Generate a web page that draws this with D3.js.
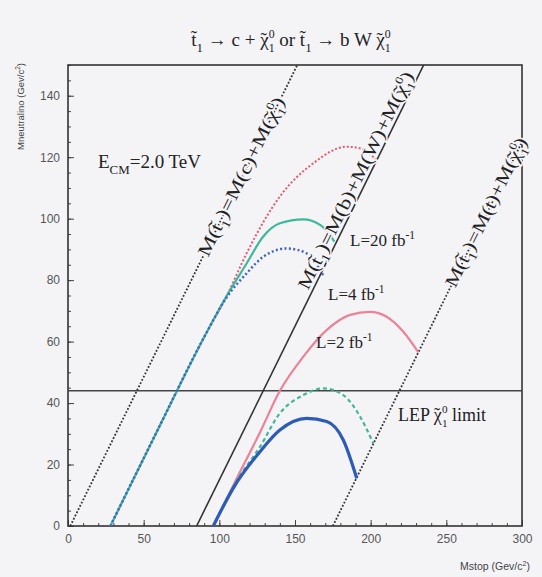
<!DOCTYPE html>
<html>
<head>
<meta charset="utf-8">
<script src="https://cdn.jsdelivr.net/npm/d3@7"></script>
<style>
  body { margin: 0; background: #f4f4f7; }
  svg { display: block; }
  .tick text { font-family: "Liberation Sans", Arial, sans-serif; font-size: 12px; fill: #555; }
  .tick line { stroke: #444; }
</style>
</head>
<body>
<div id="chart"></div>
<script>

// ---- data ----
var xTicks = [0, 50, 100, 150, 200, 250, 300];
var yTicks = [0, 20, 40, 60, 80, 100, 120, 140];
var lepLimit = 44;

// kinematic limits M(stop) = offset + M(chi)
var kinOffsets = [1.5, 85, 175];

// E_CM = 2 TeV reach contours (Mstop, Mneutralino)
var upperRed   = [[28,0],[60,32],[90,61.5],[105,75],[118,88.7],[140,107.2],[162,118],[184,123.4],[193,122.9],[204,119]];
var upperGreen = [[28,0],[60,32],[90,61.5],[105,75],[118,85.4],[129,94.2],[140,98.5],[155.5,99.8],[166.6,98],[173,94.7],[176,92.5]];
var upperBlue  = [[28,0],[60,32],[90,61.5],[105,74.5],[118,82.2],[129,87.6],[144.5,90.3],[157.7,88.7],[168.7,81.5]];

var lowerPink  = [[96,0],[110,14],[126.9,30.5],[140,44],[155.5,55.1],[171,63.8],[186.4,68.7],[199.6,69.7],[210.6,68.1],[221.6,63.2],[231.5,56.5]];
var lowerGreen = [[96,0],[110,13.5],[126.9,25.8],[140,36.7],[155.5,42.6],[168.7,44.8],[181.9,42.6],[193,35.6],[201.8,26.8]];
var lowerBlue  = [[96,0],[110,13],[126.9,24.2],[140,31.2],[157.7,35],[171,34],[181.9,28],[190.8,15.5]];

// ---- layout ----
var width = 542, height = 577;
var x = d3.scaleLinear().domain([0, 300]).range([68, 522]);
var y = d3.scaleLinear().domain([0, 150]).range([526, 65]);

var svg = d3.select("#chart").append("svg")
    .attr("width", width)
    .attr("height", height);

svg.append("rect").attr("width", width).attr("height", height).attr("fill", "#f4f4f7");

svg.append("clipPath").attr("id", "plot-clip")
    .append("rect")
    .attr("x", x(0)).attr("y", y(150))
    .attr("width", x(300) - x(0)).attr("height", y(0) - y(150));

// rich text helper: parts = [text, mode]
// modes: n normal, sub, sup, ss (sup+sub stacked), chi (chi with tilde)
function rich(sel, parts, fs) {
    var cur = 0, pdx = 0;
    parts.forEach(function(p) {
        var s = p[0], m = p[1];
        if (m == "n") {
            sel.append("tspan").attr("dx", pdx).attr("dy", -cur).text(s);
            cur = 0;
            pdx = 0;
        } else if (m == "chi") {
            sel.append("tspan").attr("dx", pdx).attr("dy", -cur).text("\u03c7");
            sel.append("tspan").attr("dx", -fs*0.43).text("\u02dc");
            cur = 0;
            pdx = fs*0.1;
        } else if (m == "sub") {
            sel.append("tspan").attr("dx", pdx).attr("dy", fs*0.3 - cur).attr("font-size", fs*0.68).text(s);
            cur = fs*0.3;
            pdx = 0;
        } else if (m == "sup") {
            sel.append("tspan").attr("dx", pdx).attr("dy", -fs*0.42 - cur).attr("font-size", fs*0.68).text(s);
            cur = -fs*0.42;
            pdx = 0;
        } else if (m == "ss") {
            sel.append("tspan").attr("dx", pdx).attr("dy", -fs*0.42 - cur).attr("font-size", fs*0.62).text(s[0]);
            sel.append("tspan").attr("dx", -fs*0.31).attr("dy", fs*0.74).attr("font-size", fs*0.62).text(s[1]);
            cur = fs*0.32;
            pdx = 0;
        }
    });
}

var serif = "'Liberation Serif', 'Times New Roman', serif";

// ---- axes ----
svg.append("g")
    .attr("transform", "translate(0," + y(0) + ")")
    .call(d3.axisBottom(x).tickValues(d3.range(0, 301, 10)).tickSize(-3).tickFormat(""))
    .select(".domain").remove();

svg.append("g")
    .attr("transform", "translate(0," + y(0) + ")")
    .call(d3.axisBottom(x).tickValues(xTicks).tickSize(-6).tickPadding(8))
    .select(".domain").remove();

svg.append("g")
    .attr("transform", "translate(" + x(0) + ",0)")
    .call(d3.axisLeft(y).tickValues(d3.range(0, 151, 5)).tickSize(-3).tickFormat(""))
    .select(".domain").remove();

svg.append("g")
    .attr("transform", "translate(" + x(0) + ",0)")
    .call(d3.axisLeft(y).tickValues(yTicks).tickSize(-6).tickPadding(8))
    .select(".domain").remove();

svg.append("rect")
    .attr("x", x(0)).attr("y", y(150))
    .attr("width", x(300) - x(0)).attr("height", y(0) - y(150))
    .attr("fill", "none")
    .attr("stroke", "#333")
    .attr("stroke-width", 1.6);

// axis titles
svg.append("text")
    .attr("transform", "translate(24," + 63 + ") rotate(-90)")
    .attr("text-anchor", "end")
    .style("font-family", "'Liberation Sans', Arial, sans-serif")
    .style("font-size", "9.5px")
    .attr("fill", "#444")
    .call(rich, [["Mneutralino (Gev/c", "n"], ["2", "sup"], [")", "n"]], 9.5);

svg.append("text")
    .attr("x", 530).attr("y", 570)
    .attr("text-anchor", "end")
    .style("font-family", "'Liberation Sans', Arial, sans-serif")
    .style("font-size", "10.5px")
    .attr("fill", "#444")
    .call(rich, [["Mstop (Gev/c", "n"], ["2", "sup"], [")", "n"]], 10.5);

// ---- lines ----
var plot = svg.append("g").attr("clip-path", "url(#plot-clip)");

// LEP limit
plot.append("line")
    .attr("x1", x(0)).attr("x2", x(300))
    .attr("y1", y(lepLimit)).attr("y2", y(lepLimit))
    .attr("stroke", "#444").attr("stroke-width", 1.3);

// kinematic boundaries
kinOffsets.forEach(function(off, i) {
    plot.append("line")
        .attr("x1", x(off)).attr("y1", y(0))
        .attr("x2", x(off + 160)).attr("y2", y(160))
        .attr("stroke", "#333")
        .attr("stroke-width", i == 1 ? 1.6 : 1.8)
        .attr("stroke-dasharray", i == 1 ? null : "1.8,1.8");
});

var line = d3.line()
    .x(function(d) { return x(d[0]); })
    .y(function(d) { return y(d[1]); })
    .curve(d3.curveMonotoneX);

var curves = [
    {data: upperRed,   color: "#e05a72", w: 2,   dash: "2,2"},
    {data: upperGreen, color: "#3db89b", w: 2.2, dash: null},
    {data: upperBlue,  color: "#3b62c4", w: 2.4, dash: "2,2.4"},
    {data: lowerPink,  color: "#ec8198", w: 2.2, dash: null},
    {data: lowerGreen, color: "#45b597", w: 2.2, dash: "4,3"},
    {data: lowerBlue,  color: "#2d5cb6", w: 3.2, dash: null}
];

plot.selectAll(".curve")
    .data(curves)
    .enter()
    .append("path")
    .attr("class", "curve")
    .attr("d", function(d) { return line(d.data); })
    .attr("fill", "none")
    .attr("stroke", function(d) { return d.color; })
    .attr("stroke-width", function(d) { return d.w; })
    .attr("stroke-dasharray", function(d) { return d.dash; });

// ---- texts ----
svg.append("text")
    .attr("x", 291).attr("y", 46)
    .attr("text-anchor", "middle")
    .style("font-family", serif).style("font-size", "19px")
    .attr("fill", "#222")
    .call(rich, [["t\u0303", "n"], ["1", "sub"], [" \u2192 c + ", "n"], ["", "chi"], [["0", "1"], "ss"],
                 [" or t\u0303", "n"], ["1", "sub"], [" \u2192 b W ", "n"], ["", "chi"], [["0", "1"], "ss"]], 19);

svg.append("text")
    .attr("x", 98).attr("y", 168)
    .style("font-family", serif).style("font-size", "19px")
    .attr("fill", "#222")
    .call(rich, [["E", "n"], ["CM", "sub"], ["=2.0 TeV", "n"]], 19);

var lumi = [
    {x: 350, y: 246, txt: "L=20 fb"},
    {x: 328, y: 300, txt: "L=4 fb"},
    {x: 316, y: 348, txt: "L=2 fb"}
];
lumi.forEach(function(d) {
    svg.append("text")
        .attr("x", d.x).attr("y", d.y)
        .style("font-family", serif).style("font-size", "17px")
        .attr("fill", "#222")
        .call(rich, [[d.txt, "n"], ["-1", "sup"]], 17);
});

svg.append("text")
    .attr("x", 398).attr("y", 421)
    .style("font-family", serif).style("font-size", "18px")
    .attr("fill", "#222")
    .call(rich, [["LEP ", "n"], ["", "chi"], [["0", "1"], "ss"], [" limit", "n"]], 18);

// labels along the kinematic lines
var angle = Math.atan2(y(0) - y(1), x(1) - x(0)) * 180 / Math.PI;
var diagLabels = [
    {off: kinOffsets[0], at: 88, dy: 5,  len: 175, mid: "c"},
    {off: kinOffsets[1], at: 76, dy: -4, len: 240, mid: "b)+M(W"},
    {off: kinOffsets[2], at: 78, dy: 5,  len: 164, mid: "t"}
];
diagLabels.forEach(function(d) {
    svg.append("text")
        .attr("transform", "translate(" + x(d.off + d.at) + "," + y(d.at) + ") rotate(" + (-angle) + ")")
        .attr("y", d.dy)
        .attr("textLength", d.len)
        .attr("lengthAdjust", "spacingAndGlyphs")
        .style("font-family", serif).style("font-size", "18px")
        .attr("fill", "#222")
        .attr("stroke", "#f4f4f7").attr("stroke-width", 3).attr("paint-order", "stroke")
        .call(rich, [["M(t\u0303", "n"], ["1", "sub"], [")=M(" + d.mid + ")+M(", "n"], ["", "chi"], [["0", "1"], "ss"], [")", "n"]], 18);
});

</script>
</body>
</html>
